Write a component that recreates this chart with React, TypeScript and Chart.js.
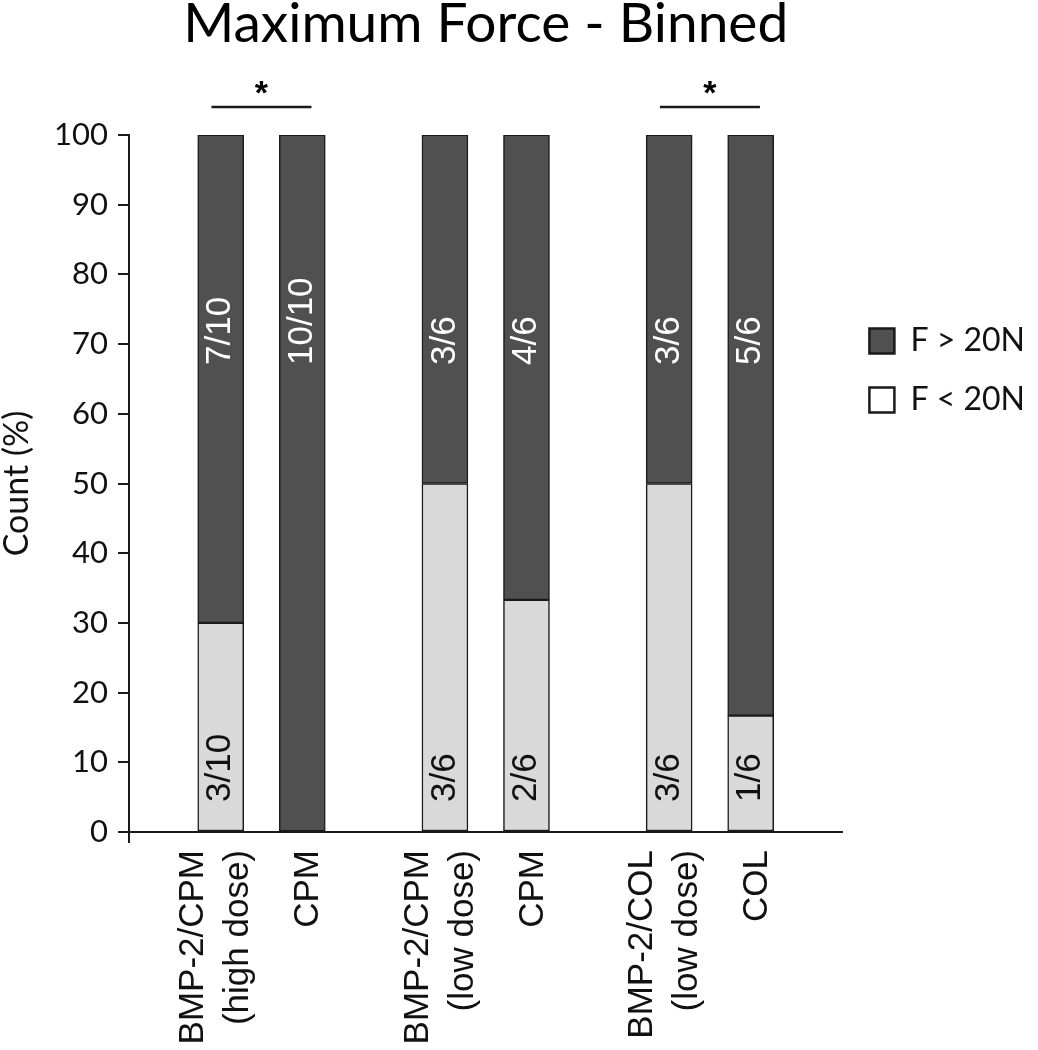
import { useEffect, useRef } from "react";
import { Chart, registerables } from "chart.js";

Chart.register(...registerables);

// Spacer markers: blank category columns that separate the three comparisons
const _ = null;
const E = "";

const categories: (string | string[])[] = [
  E, E, E, E, ["BMP-2/CPM", "(high dose)"], E, E, E, "CPM",
  E, E, E, E, E, E, ["BMP-2/CPM", "(low dose)"], E, E, E, "CPM",
  E, E, E, E, E, E, ["BMP-2/COL", "(low dose)"], E, E, E, "COL",
  E, E, E, E,
];

// % of samples with F < 20N
const belowPct: (number | null)[] = [
  _, _, _, _, 30, _, _, _, 0,
  _, _, _, _, _, _, 50, _, _, _, 33.3,
  _, _, _, _, _, _, 50, _, _, _, 16.7,
  _, _, _, _,
];

// % of samples with F > 20N
const abovePct: (number | null)[] = [
  _, _, _, _, 70, _, _, _, 100,
  _, _, _, _, _, _, 50, _, _, _, 66.7,
  _, _, _, _, _, _, 50, _, _, _, 83.3,
  _, _, _, _,
];

const belowCounts: string[] = [
  E, E, E, E, "3/10", E, E, E, E,
  E, E, E, E, E, E, "3/6", E, E, E, "2/6",
  E, E, E, E, E, E, "3/6", E, E, E, "1/6",
  E, E, E, E,
];

const aboveCounts: string[] = [
  E, E, E, E, "7/10", E, E, E, "10/10",
  E, E, E, E, E, E, "3/6", E, E, E, "4/6",
  E, E, E, E, E, E, "3/6", E, E, E, "5/6",
  E, E, E, E,
];

// pairs of category indices marked as significantly different
const significantPairs: [number, number][] = [
  [4, 8],
  [26, 30],
];

const yTicks = { min: 0, max: 100, step: 10 };

const seriesNames = ["F < 20N", "F > 20N"];

const INK = "#1a1a1a";
const DARK = "#505050";
const LIGHT = "#d9d9d9";

const annotate = {
  id: "annotate",
  afterDatasetsDraw(chart: any) {
    const ctx = chart.ctx as CanvasRenderingContext2D;
    const yScale = chart.scales.y;
    const xScale = chart.scales.x;
    ctx.save();
    ctx.font = "35px 'Liberation Sans', Arial, sans-serif";
    const drawRot = (text: string, x: number, y: number, color: string) => {
      ctx.save();
      ctx.translate(x, y);
      ctx.rotate(-Math.PI / 2);
      ctx.textAlign = "left";
      ctx.textBaseline = "middle";
      ctx.fillStyle = color;
      ctx.fillText(text, 0, 0);
      ctx.restore();
    };
    const below = chart.getDatasetMeta(0);
    const above = chart.getDatasetMeta(1);
    below.data.forEach((bar: any, i: number) => {
      const t = belowCounts[i];
      if (!t) return;
      drawRot(t, bar.x, bar.base - 29, "#111");
    });
    above.data.forEach((bar: any, i: number) => {
      const t = aboveCounts[i];
      if (!t) return;
      drawRot(t, bar.x, yScale.getPixelForValue(67), "#ffffff");
    });

    // significance bars
    ctx.strokeStyle = INK;
    ctx.lineWidth = 2.5;
    ctx.fillStyle = "#000";
    ctx.font = "bold 34px 'Liberation Sans', Arial, sans-serif";
    ctx.textAlign = "center";
    ctx.textBaseline = "alphabetic";
    const ly = yScale.getPixelForValue(104);
    significantPairs.forEach(([a, b]) => {
      const mid = (xScale.getPixelForValue(a) + xScale.getPixelForValue(b)) / 2;
      ctx.beginPath();
      ctx.moveTo(mid - 50, ly);
      ctx.lineTo(mid + 50, ly);
      ctx.stroke();
      ctx.fillText("*", mid, ly - 3);
    });
    ctx.restore();
  },
};

export default function App() {
  const ref = useRef<HTMLCanvasElement>(null);

  useEffect(() => {
    document.body.style.margin = "0";
    const canvas = ref.current;
    if (!canvas) return;
    const chart = new Chart(canvas, {
      type: "bar",
      data: {
        labels: categories as any,
        datasets: [
          {
            label: seriesNames[0],
            data: belowPct,
            backgroundColor: LIGHT,
            borderColor: INK,
            borderWidth: 1.5,
            borderSkipped: false,
            barThickness: 46,
            stack: "s",
          },
          {
            label: seriesNames[1],
            data: abovePct,
            backgroundColor: DARK,
            borderColor: INK,
            borderWidth: 1.5,
            borderSkipped: false,
            barThickness: 46,
            stack: "s",
          },
        ],
      },
      options: {
        responsive: false,
        animation: false,
        devicePixelRatio: 1,
        layout: { padding: { left: 0, top: 0, bottom: 0, right: 3 } },
        plugins: {
          title: {
            display: true,
            text: "Maximum Force - Binned",
            fullSize: false,
            color: "#000",
            font: { family: "Lato", size: 55, weight: "normal", lineHeight: 0.9 },
            padding: { top: 0, bottom: 85.5 },
          },
          legend: {
            display: true,
            position: "right",
            align: "start",
            reverse: true,
            title: {
              display: true,
              text: "",
              font: { size: 10, lineHeight: 1 },
              padding: { top: 288, bottom: 0 },
            },
            labels: {
              color: "#111",
              font: { family: "Lato", size: 32 },
              boxWidth: 25,
              boxHeight: 25,
              padding: 27,
              generateLabels: (c: any) => {
                const items = (Chart.defaults.plugins.legend.labels as any).generateLabels(c);
                return items.map((it: any) => ({
                  ...it,
                  fillStyle: it.datasetIndex === 0 ? "#ffffff" : it.fillStyle,
                  strokeStyle: INK,
                  lineWidth: 2.5,
                }));
              },
            },
          },
          tooltip: { enabled: false },
        },
        scales: {
          x: {
            type: "category",
            stacked: true,
            offset: true,
            afterFit: (s: any) => {
              s.height = 218;
            },
            border: { display: true, color: INK, width: 2 },
            grid: {
              display: true,
              drawOnChartArea: false,
              drawTicks: true,
              tickLength: 11,
              lineWidth: 2,
              color: (c: any) => (c.index === 0 ? INK : "rgba(0,0,0,0)"),
            },
            ticks: {
              autoSkip: false,
              minRotation: 90,
              maxRotation: 90,
              padding: 7,
              labelOffset: -27,
              color: "#111",
              font: (c: any) => ({
                family: "'Liberation Sans', Arial, sans-serif",
                size: 35,
                lineHeight: Array.isArray(categories[c.index]) ? 45 / 35 : 33.5 / 35,
              }),
              callback: (_v: any, i: number) => {
                const lab = categories[i];
                if (Array.isArray(lab)) return lab;
                return lab ? ["", lab] : "";
              },
            },
          },
          y: {
            type: "linear",
            stacked: true,
            min: yTicks.min,
            max: yTicks.max,
            afterFit: (s: any) => {
              s.width = 129;
            },
            border: { display: true, color: INK, width: 2 },
            grid: {
              display: true,
              drawOnChartArea: false,
              drawTicks: true,
              tickLength: 11,
              lineWidth: 2,
              color: INK,
            },
            ticks: {
              stepSize: yTicks.step,
              padding: 10,
              color: "#111",
              font: { family: "Lato", size: 31 },
            },
            title: {
              display: true,
              text: "Count (%)",
              color: "#111",
              font: { family: "Lato", size: 34, lineHeight: 1 },
              padding: 0,
            },
          },
        },
      },
      plugins: [annotate],
    } as any);
    return () => chart.destroy();
  }, []);

  return (
    <canvas
      ref={ref}
      width={1038}
      height={1050}
      style={{ display: "block", width: 1038, height: 1050 }}
    />
  );
}
